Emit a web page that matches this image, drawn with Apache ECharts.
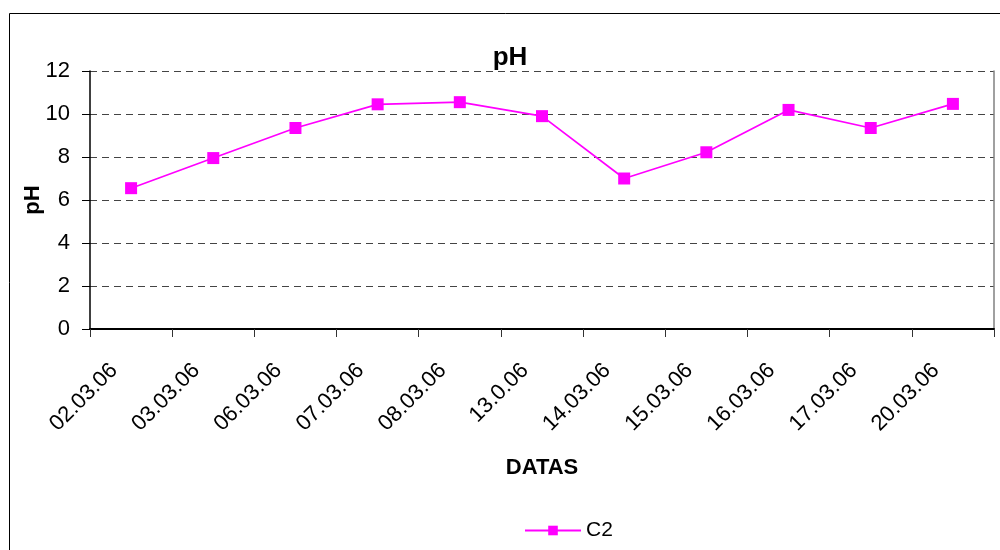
<!DOCTYPE html>
<html>
<head>
<meta charset="utf-8">
<title>pH</title>
<script src="https://cdn.jsdelivr.net/npm/echarts@6/dist/echarts.min.js"></script>
<style>html,body{margin:0;background:#fff}#chart{width:1000px;height:550px}</style>
</head>
<body>
<div id="chart"></div>
<script>
// 数据：日期与 pH 值
const datas = ["02.03.06", "03.03.06", "06.03.06", "07.03.06", "08.03.06", "13.0.06",
  "14.03.06", "15.03.06", "16.03.06", "17.03.06", "20.03.06"];
const c2 = [6.55, 7.95, 9.35, 10.45, 10.55, 9.9, 7.0, 8.22, 10.19, 9.35, 10.47];
const yTicks = { min: 0, max: 12, interval: 2 };

const font = "Liberation Sans, Arial, sans-serif";
const chart = echarts.init(document.getElementById("chart"), null, { renderer: "canvas" });

chart.setOption({
  animation: false,
  backgroundColor: "#fff",
  textStyle: { fontFamily: font },
  graphic: [{
    type: "rect", z: -1,
    shape: { x: 9.5, y: 13.5, width: 1000, height: 600 },
    style: { fill: "none", stroke: "#000", lineWidth: 1 }
  }],
  title: {
    text: "pH", left: 505, top: 40, textAlign: "center",
    textStyle: { fontFamily: font, fontSize: 26, fontWeight: "bold", color: "#000" }
  },
  legend: {
    top: 515, left: 519,
    itemWidth: 56, itemHeight: 12, itemGap: 4,
    textStyle: { fontFamily: font, fontSize: 21, color: "#000" },
    data: ["C2"]
  },
  grid: { left: 90, right: 6, top: 71, bottom: 221, containLabel: false },
  xAxis: {
    type: "category", data: datas, boundaryGap: true,
    name: "DATAS", nameLocation: "middle", nameGap: 128, nameMoveOverlap: false,
    nameTextStyle: { fontFamily: font, fontSize: 22, fontWeight: "bold", color: "#000" },
    axisLine: { lineStyle: { color: "#000", width: 2 } },
    axisTick: { show: true, alignWithLabel: false, length: 8, lineStyle: { color: "#333" } },
    axisLabel: {
      rotate: 45, margin: 21, interval: 0, fontSize: 22, color: "#000", fontFamily: font,
      padding: [0, 24, 0, 0]
    }
  },
  yAxis: [{
    type: "value", min: yTicks.min, max: yTicks.max, interval: yTicks.interval,
    name: "pH", nameLocation: "middle", nameGap: 46, nameRotate: 90, nameMoveOverlap: false,
    nameTextStyle: { fontFamily: font, fontSize: 22, fontWeight: "bold", color: "#000" },
    axisLine: { show: true, lineStyle: { color: "#000", width: 1.5 } },
    axisTick: { show: true, length: 8, lineStyle: { color: "#000" } },
    axisLabel: { fontSize: 22, color: "#000", margin: 20, fontFamily: font },
    splitLine: { show: true, lineStyle: { color: "#444", type: [7, 5], width: 1 } }
  }, {
    // 右侧边框（灰色实线）
    type: "value", position: "right", min: yTicks.min, max: yTicks.max, interval: yTicks.interval,
    axisLine: { show: true, lineStyle: { color: "#808080", width: 1.5 } },
    axisTick: { show: false }, axisLabel: { show: false }, splitLine: { show: false }
  }],
  series: [{
    name: "C2", type: "line", data: c2,
    symbol: "rect", symbolSize: 12,
    lineStyle: { color: "#FF00FF", width: 1.7 },
    itemStyle: { color: "#FF00FF" }
  }]
});
</script>
</body>
</html>
